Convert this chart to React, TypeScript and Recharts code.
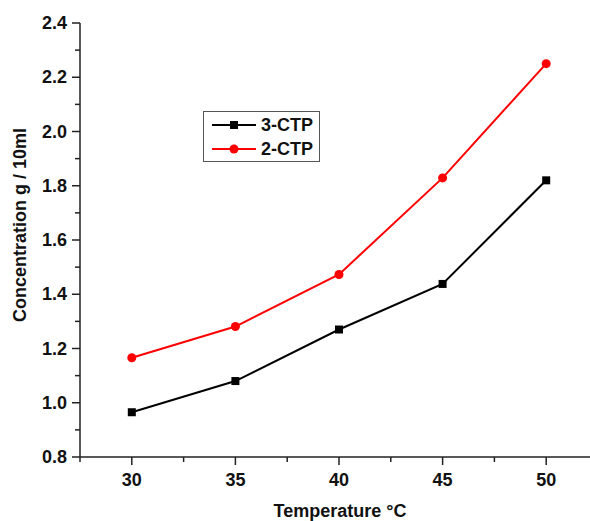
import React from 'react';
import { LineChart, Line, XAxis, YAxis } from 'recharts';

const temperatures = [30, 35, 40, 45, 50];
const ctp3 = [0.965, 1.08, 1.27, 1.438, 1.82];
const ctp2 = [1.166, 1.281, 1.473, 1.829, 2.25];

const xTicks = [27.5, 30, 32.5, 35, 37.5, 40, 42.5, 45, 47.5, 50, 52.5];
const yTicks = [0.8, 0.9, 1.0, 1.1, 1.2, 1.3, 1.4, 1.5, 1.6, 1.7, 1.8, 1.9, 2.0, 2.1, 2.2, 2.3, 2.4];

const data = temperatures.map((t, i) => ({ temp: t, ctp3: ctp3[i], ctp2: ctp2[i] }));

const FONT = '"Liberation Sans", Arial, sans-serif';
const AXIS = '#222';

const YTick = ({ x, y, payload }: any) => {
  const v = payload.value as number;
  const major = Math.round(v * 10) % 2 === 0;
  return (
    <g>
      <line x1={x} y1={y} x2={x - (major ? 8 : 5)} y2={y} stroke={AXIS} strokeWidth={1.5} />
      {major && (
        <text x={x - 13} y={y} dy={6} textAnchor="end" fontFamily={FONT} fontWeight="bold" fontSize={18} fill="#111">
          {v.toFixed(1)}
        </text>
      )}
    </g>
  );
};

const XTick = ({ x, y, payload }: any) => {
  const v = payload.value as number;
  const major = v % 5 === 0;
  return (
    <g>
      <line x1={x} y1={y} x2={x} y2={y + (major ? 8 : 5)} stroke={AXIS} strokeWidth={1.5} />
      {major && (
        <text x={x} y={y + 29} textAnchor="middle" fontFamily={FONT} fontWeight="bold" fontSize={18} fill="#111">
          {v}
        </text>
      )}
    </g>
  );
};

const SquareDot = ({ cx, cy }: any) => (
  <rect x={cx - 4} y={cy - 4} width={8} height={8} fill="#000" />
);

const legendItems = [
  { name: '3-CTP', color: '#000', square: true },
  { name: '2-CTP', color: '#ff0000', square: false },
];

const LegendBox = () => (
  <div
    style={{
      position: 'absolute',
      left: 203,
      top: 111,
      border: '1px solid #555',
      width: 117,
      height: 51,
      boxSizing: 'border-box',
      background: '#fff',
      paddingTop: 1,
    }}
  >
    {legendItems.map((it) => (
      <div key={it.name} style={{ display: 'flex', alignItems: 'center', height: 24 }}>
        <svg width={54} height={24} style={{ marginLeft: 6 }}>
          <line x1={2} y1={12} x2={46} y2={12} stroke={it.color} strokeWidth={2} />
          {it.square ? (
            <rect x={20} y={8} width={8} height={8} fill={it.color} />
          ) : (
            <circle cx={24} cy={12} r={4.5} fill={it.color} />
          )}
        </svg>
        <span style={{ fontFamily: FONT, fontWeight: 'bold', fontSize: 18, color: '#111', marginLeft: -3 }}>
          {it.name}
        </span>
      </div>
    ))}
  </div>
);

export default function App() {
  return (
    <div style={{ position: 'absolute', left: 0, top: 0, width: 590, height: 521, overflow: 'hidden', background: '#fff' }}>
      <LineChart width={610} height={521} data={data} margin={{ top: 23, right: 12, bottom: 0, left: 0 }}>
        <XAxis
          dataKey="temp"
          type="number"
          domain={[27.5, 52.5]}
          ticks={xTicks}
          height={64}
          tickSize={0}
          tickMargin={0}
          tickLine={false}
          tick={<XTick />}
          stroke={AXIS}
          strokeWidth={1.5}
          label={{
            content: () => (
              <text x={340} y={517} textAnchor="middle" fontFamily={FONT} fontWeight="bold" fontSize={18} fill="#111">
                Temperature °C
              </text>
            ),
          }}
        />
        <XAxis
          xAxisId="top"
          orientation="top"
          dataKey="temp"
          type="number"
          domain={[27.5, 52.5]}
          height={0}
          tick={false}
          tickLine={false}
          stroke={AXIS}
          strokeWidth={1.5}
        />
        <YAxis
          type="number"
          domain={[0.8, 2.4]}
          ticks={yTicks}
          width={80}
          tickSize={0}
          tickMargin={0}
          tickLine={false}
          tick={<YTick />}
          stroke={AXIS}
          strokeWidth={1.5}
          label={{
            content: () => (
              <text
                x={26}
                y={225}
                transform="rotate(-90 26 225)"
                textAnchor="middle"
                fontFamily={FONT}
                fontWeight="bold"
                fontSize={18}
                fill="#111"
              >
                Concentration g / 10ml
              </text>
            ),
          }}
        />
        <Line
          name="3-CTP"
          dataKey="ctp3"
          stroke="#000"
          strokeWidth={2}
          dot={<SquareDot />}
          activeDot={false}
          isAnimationActive={false}
        />
        <Line
          name="2-CTP"
          dataKey="ctp2"
          stroke="#ff0000"
          strokeWidth={2}
          dot={{ r: 4.5, fill: '#ff0000', stroke: 'none' }}
          activeDot={false}
          isAnimationActive={false}
        />
      </LineChart>
      <LegendBox />
    </div>
  );
}
